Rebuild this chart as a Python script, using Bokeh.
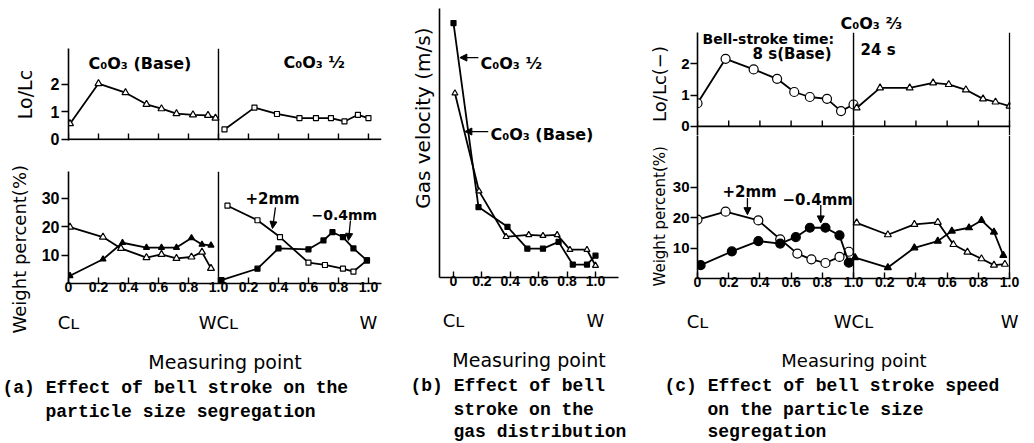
from bokeh.plotting import figure
from bokeh.models import Range1d, FixedTicker, LinearAxis, Span, Label, Arrow, NormalHead, Title
from bokeh.layouts import row, column
from bokeh.embed import file_html
from bokeh.resources import INLINE

# ---------------- data ----------------
# measuring point axis: first half C_L -> WC_L (0..1), second half WC_L -> W (1..2)
x_ticks = [0, 0.2, 0.4, 0.6, 0.8, 1.0, 1.2, 1.4, 1.6, 1.8, 2.0]
x_tick_labels = ["0", "0.2", "0.4", "0.6", "0.8", "1.0", "0.2", "0.4", "0.6", "0.8", "1.0"]
b_ticks = [0, 0.2, 0.4, 0.6, 0.8, 1.0]
b_tick_labels = ["0", "0.2", "0.4", "0.6", "0.8", "1.0"]
pos_ticks_two = [0, 1, 2]
pos_labels_two = ["C\u029f", "WC\u029f", "W"]
pos_ticks_one = [0, 1]
pos_labels_one = ["C\u029f", "W"]
lolc_ticks = [0, 1, 2]
wp_ticks = [10, 20, 30]

# (a) Lo/Lc : CoO3 (Base) and CoO3 1/2
a_lolc_base_x = [0.01, 0.20, 0.38, 0.52, 0.62, 0.72, 0.83, 0.93, 0.98]
a_lolc_base_y = [0.57, 2.02, 1.69, 1.27, 1.11, 0.93, 0.89, 0.87, 0.77]
a_lolc_half_x = [0.04, 0.24, 0.39, 0.54, 0.65, 0.75, 0.84, 0.93, 1.0]
a_lolc_half_y = [0.36, 1.15, 0.92, 0.77, 0.77, 0.77, 0.65, 0.89, 0.77]

# (a) weight percent : +2mm and -0.4mm
a_wp_base_p2_x = [0.01, 0.23, 0.35, 0.52, 0.62, 0.72, 0.82, 0.89, 0.95]
a_wp_base_p2_y = [19.8, 16.3, 12.3, 9.1, 10.2, 8.8, 9.3, 11.0, 5.3]
a_wp_base_m04_x = [0.01, 0.23, 0.36, 0.52, 0.62, 0.72, 0.82, 0.89, 0.95]
a_wp_base_m04_y = [2.7, 8.5, 14.3, 12.6, 12.6, 12.6, 16.0, 13.7, 13.4]
a_wp_half_p2_x = [0.06, 0.26, 0.41, 0.60, 0.71, 0.83, 0.90, 0.99]
a_wp_half_p2_y = [27.3, 22.2, 16.3, 7.3, 6.5, 5.2, 4.2, 8.1]
a_wp_half_m04_x = [0.02, 0.26, 0.40, 0.60, 0.70, 0.76, 0.83, 0.90, 0.99]
a_wp_half_m04_y = [1.2, 5.2, 12.3, 12.0, 15.1, 18.0, 16.3, 12.3, 8.1]

# (b) gas velocity
b_half_x = [0, 0.176, 0.38, 0.52, 0.63, 0.74, 0.84, 0.94, 1.0]
b_half_y = [9.43, 2.61, 1.88, 1.07, 1.07, 1.32, 0.48, 0.48, 0.81]
b_base_x = [0.01, 0.18, 0.37, 0.53, 0.63, 0.73, 0.82, 0.94, 1.0]
b_base_y = [6.83, 3.20, 1.51, 1.58, 1.55, 1.58, 1.03, 1.03, 0.44]

# (c) Lo/Lc : 8 s (Base) and 24 s
c_lolc_8s_x = [0, 0.18, 0.36, 0.51, 0.62, 0.72, 0.83, 0.92, 1.0]
c_lolc_8s_y = [0.74, 2.16, 1.82, 1.52, 1.10, 0.94, 0.88, 0.49, 0.70]
c_lolc_24s_x = [0.02, 0.17, 0.36, 0.51, 0.61, 0.72, 0.83, 0.91, 1.0]
c_lolc_24s_y = [0.59, 1.23, 1.23, 1.39, 1.34, 1.17, 0.88, 0.78, 0.65]

# (c) weight percent
c_wp_8s_p2_x = [0, 0.18, 0.39, 0.53, 0.64, 0.73, 0.82, 0.91, 0.97]
c_wp_8s_p2_y = [19.4, 22.0, 19.1, 12.9, 8.2, 6.3, 5.1, 7.1, 8.8]
c_wp_8s_m04_x = [0.02, 0.22, 0.39, 0.53, 0.63, 0.72, 0.82, 0.91, 0.97]
c_wp_8s_m04_y = [4.4, 8.9, 12.3, 11.5, 13.6, 16.7, 16.7, 14.2, 5.2]
c_wp_24s_p2_x = [0.02, 0.22, 0.39, 0.54, 0.64, 0.73, 0.82, 0.90, 0.97]
c_wp_24s_p2_y = [18.3, 14.4, 17.8, 18.5, 11.2, 8.7, 6.5, 4.4, 4.7]
c_wp_24s_m04_x = [0.01, 0.22, 0.39, 0.54, 0.63, 0.74, 0.82, 0.90, 0.96]
c_wp_24s_m04_y = [6.9, 3.6, 10.1, 12.3, 15.6, 16.7, 19.1, 15.3, 7.6]

INK = "black"
TICK_FONT = "Liberation Sans"
SANS = "DejaVu Sans"
MONO = "Liberation Mono"


def second_half(xs):
    return [1.0 + v for v in xs]


def make_fig(w, h, xr, yr, ml, mr, mt, mb):
    p = figure(width=w, height=h, x_range=Range1d(*xr), y_range=Range1d(*yr),
               output_backend="svg", toolbar_location=None,
               min_border_left=ml, min_border_right=mr,
               min_border_top=mt, min_border_bottom=mb)
    p.xgrid.visible = False
    p.ygrid.visible = False
    p.outline_line_color = None
    p.background_fill_color = "white"
    p.border_fill_color = "white"
    return p


def style_x(ax, ticks, labels):
    ax.ticker = FixedTicker(ticks=ticks)
    ax.major_label_overrides = dict(zip(ticks, labels))
    ax.major_tick_in = 6
    ax.major_tick_out = 0
    ax.minor_tick_line_color = None
    ax.axis_line_color = INK
    ax.axis_line_width = 1.6
    ax.major_tick_line_color = INK
    ax.major_tick_line_width = 1.4
    ax.major_label_standoff = -2
    ax.major_label_text_font = TICK_FONT
    ax.major_label_text_font_style = "bold"
    ax.major_label_text_color = INK
    ax.major_label_text_font_size = "14px"


def inner_x_axis(p, ticks, tick_len):
    # bottom line of an upper sub-plot, with inward ticks and no labels
    p.xaxis.visible = False
    p.add_layout(Span(location=0, dimension="width", line_color=INK, line_width=1.6))
    p.segment(x0=ticks, y0=[0] * len(ticks), x1=ticks, y1=[tick_len] * len(ticks),
              line_color=INK, line_width=1.4)


def style_y(ax, ticks, label=None, size=19, als=10, label_size=16, standoff=2):
    ax.ticker = FixedTicker(ticks=ticks)
    ax.major_tick_out = 7
    ax.major_tick_in = 0
    ax.minor_tick_line_color = None
    ax.axis_line_color = INK
    ax.axis_line_width = 1.6
    ax.major_tick_line_color = INK
    ax.major_tick_line_width = 1.4
    ax.major_label_standoff = standoff
    ax.major_label_text_font = TICK_FONT
    ax.major_label_text_font_style = "bold"
    ax.major_label_text_color = INK
    ax.major_label_text_font_size = f"{label_size}px"
    if label is not None:
        ax.axis_label = label
        ax.axis_label_text_font = SANS
        ax.axis_label_text_font_style = "normal"
        ax.axis_label_text_font_size = f"{size}px"
        ax.axis_label_text_color = INK
        ax.axis_label_standoff = als


def add_pos_axis(p, ticks, labels, standoff, axis_label, als, size=19):
    ax = LinearAxis(ticker=FixedTicker(ticks=ticks),
                    major_label_overrides=dict(zip(ticks, labels)),
                    axis_line_color=None, major_tick_line_color=None,
                    minor_tick_line_color=None, major_label_standoff=standoff,
                    major_label_text_font=SANS, major_label_text_font_size="18px",
                    major_label_text_color=INK,
                    axis_label=axis_label, axis_label_standoff=als,
                    axis_label_text_font=SANS, axis_label_text_font_size=f"{size}px",
                    axis_label_text_font_style="normal", axis_label_text_color=INK)
    p.add_layout(ax, "below")


def add_title(p, text, place, size, font=SANS, align="left", offset=0, standoff=0,
              valign="middle", style="normal"):
    p.add_layout(Title(text=text, align=align, offset=offset, standoff=standoff,
                       vertical_align=valign, text_font=font, text_font_size=f"{size}px",
                       text_font_style=style, text_color=INK), place)


def caption(p, lines, first_offset, indent_offset, size=18):
    for i, line in enumerate(lines):
        add_title(p, line, "below", size, font=MONO,
                  offset=first_offset if i == 0 else indent_offset,
                  standoff=4 if i == 0 else 0, valign="top", style="bold")


def series(p, xs, ys, marker, filled, size):
    p.line(xs, ys, line_color=INK, line_width=1.8)
    p.scatter(xs, ys, marker=marker, size=size, line_color=INK, line_width=1.2,
              fill_color=INK if filled else "white")


def txt(p, x, y, text, size, font=SANS, style="bold", align="left", baseline="middle"):
    p.add_layout(Label(x=x, y=y, text=text, text_font=font, text_font_size=f"{size}px",
                       text_font_style=style, text_align=align, text_baseline=baseline,
                       text_color=INK))


def arrow(p, x0, y0, x1, y1):
    p.add_layout(Arrow(end=NormalHead(size=7, fill_color=INK, line_color=INK, line_width=1),
                       x_start=x0, y_start=y0, x_end=x1, y_end=y1,
                       line_color=INK, line_width=1.3))


def divider(p, loc):
    p.add_layout(Span(location=loc, dimension="height", line_color=INK, line_width=1.4))


# ---------------- panel (a) ----------------
a_top = make_fig(384, 153, (0, 2.087), (-0.04, 3.29), 68, 3, 48, 13)
inner_x_axis(a_top, x_ticks, 0.21)
style_y(a_top.yaxis[0], lolc_ticks, "Lo/Lc", 19, 12)
divider(a_top, 1.0)
series(a_top, a_lolc_base_x, a_lolc_base_y, "triangle", False, 7)
series(a_top, second_half(a_lolc_half_x), a_lolc_half_y, "square", False, 5)
txt(a_top, 0.133, 2.75, "C\u2080O\u2083 (Base)", 16)
txt(a_top, 1.433, 2.79, "C\u2080O\u2083 \u00bd", 16)

a_bot = make_fig(384, 290, (0, 2.087), (0, 39.3), 68, 3, 18, 160)
style_x(a_bot.xaxis[0], x_ticks, x_tick_labels)
style_y(a_bot.yaxis[0], wp_ticks)
add_title(a_bot, "Weight percent(%)", "left", 18, align="left", offset=-50, standoff=15)
add_pos_axis(a_bot, pos_ticks_two, pos_labels_two, 11, "Measuring point", 15)
caption(a_bot, ["(a) Effect of bell stroke on the", "particle size segregation"], -66, -23)
divider(a_bot, 1.0)
series(a_bot, a_wp_base_p2_x, a_wp_base_p2_y, "triangle", False, 7)
series(a_bot, a_wp_base_m04_x, a_wp_base_m04_y, "triangle", True, 6)
series(a_bot, second_half(a_wp_half_p2_x), a_wp_half_p2_y, "square", False, 5)
series(a_bot, second_half(a_wp_half_m04_x), a_wp_half_m04_y, "square", True, 5)
txt(a_bot, 1.18, 29.5, "+2mm", 15)
arrow(a_bot, 1.38, 26.7, 1.36, 19.3)
txt(a_bot, 1.62, 23.9, "\u22120.4mm", 14)
arrow(a_bot, 1.88, 22.1, 1.867, 15.1)

panel_a = column(a_top, a_bot)

# ---------------- panel (b) ----------------
b = make_fig(261, 443, (-0.0986, 1.162), (0, 9.97), 55, 27, 8, 164)
style_x(b.xaxis[0], b_ticks, b_tick_labels)
style_y(b.yaxis[0], [])
add_title(b, "Gas velocity (m/s)", "left", 20, align="right", offset=19, standoff=7)
add_pos_axis(b, pos_ticks_one, pos_labels_one, 15, "Measuring point", 15)
caption(b, ["(b) Effect of bell", "stroke on the", "gas distribution"], -29, 14)
series(b, b_half_x, b_half_y, "square", True, 5)
series(b, b_base_x, b_base_y, "triangle", False, 6)
txt(b, 0.19, 7.95, "C\u2080O\u2083 \u00bd", 16)
arrow(b, 0.175, 8.15, 0.045, 8.15)
txt(b, 0.26, 5.3, "C\u2080O\u2083 (Base)", 16)
arrow(b, 0.245, 5.41, 0.08, 5.41)

# ---------------- panel (c) ----------------
c_top = make_fig(389, 135, (0, 2.006), (-0.29, 3.0), 52, 24, 32, 0)
inner_x_axis(c_top, x_ticks, 0.19)
style_y(c_top.yaxis[0], lolc_ticks, "Lo/Lc(\u2212)", 18, 8, label_size=15, standoff=1)
add_title(c_top, "C\u2080O\u2083 \u2154", "above", 16, align="left", offset=143,
          standoff=0, valign="bottom", style="bold")
divider(c_top, 1.0)
divider(c_top, 2.0)
series(c_top, c_lolc_8s_x, c_lolc_8s_y, "circle", False, 9)
series(c_top, second_half(c_lolc_24s_x), c_lolc_24s_y, "triangle", False, 7)
txt(c_top, 0.032, 2.78, "Bell-stroke time:", 14)
txt(c_top, 0.353, 2.30, "8 s(Base)", 15)
txt(c_top, 1.045, 2.43, "24 s", 15)

c_bot = make_fig(389, 308, (0, 2.006), (0, 47.06), 52, 24, 0, 164)
style_x(c_bot.xaxis[0], x_ticks, x_tick_labels)
style_y(c_bot.yaxis[0], wp_ticks, label_size=15, standoff=1)
add_title(c_bot, "Weight percent(%)", "left", 15, align="left", offset=-8, standoff=0)
add_pos_axis(c_bot, pos_ticks_two, pos_labels_two, 15, "Measuring point", 15, size=18)
caption(c_bot, ["(c) Effect of bell stroke speed", "on the particle size", "segregation"], -33, 10)
divider(c_bot, 1.0)
divider(c_bot, 2.0)
series(c_bot, c_wp_8s_p2_x, c_wp_8s_p2_y, "circle", False, 9)
series(c_bot, c_wp_8s_m04_x, c_wp_8s_m04_y, "circle", True, 9)
series(c_bot, second_half(c_wp_24s_p2_x), c_wp_24s_p2_y, "triangle", False, 7)
series(c_bot, second_half(c_wp_24s_m04_x), c_wp_24s_m04_y, "triangle", True, 7)
txt(c_bot, 0.16, 28.4, "+2mm", 15)
arrow(c_bot, 0.32, 26.5, 0.32, 21.0)
txt(c_bot, 0.545, 25.8, "\u22120.4mm", 15)
arrow(c_bot, 0.79, 24.2, 0.79, 18.3)

panel_c = column(c_top, c_bot)

layout = row(panel_a, b, panel_c)

open("out.html", "w").write(file_html(layout, INLINE))
